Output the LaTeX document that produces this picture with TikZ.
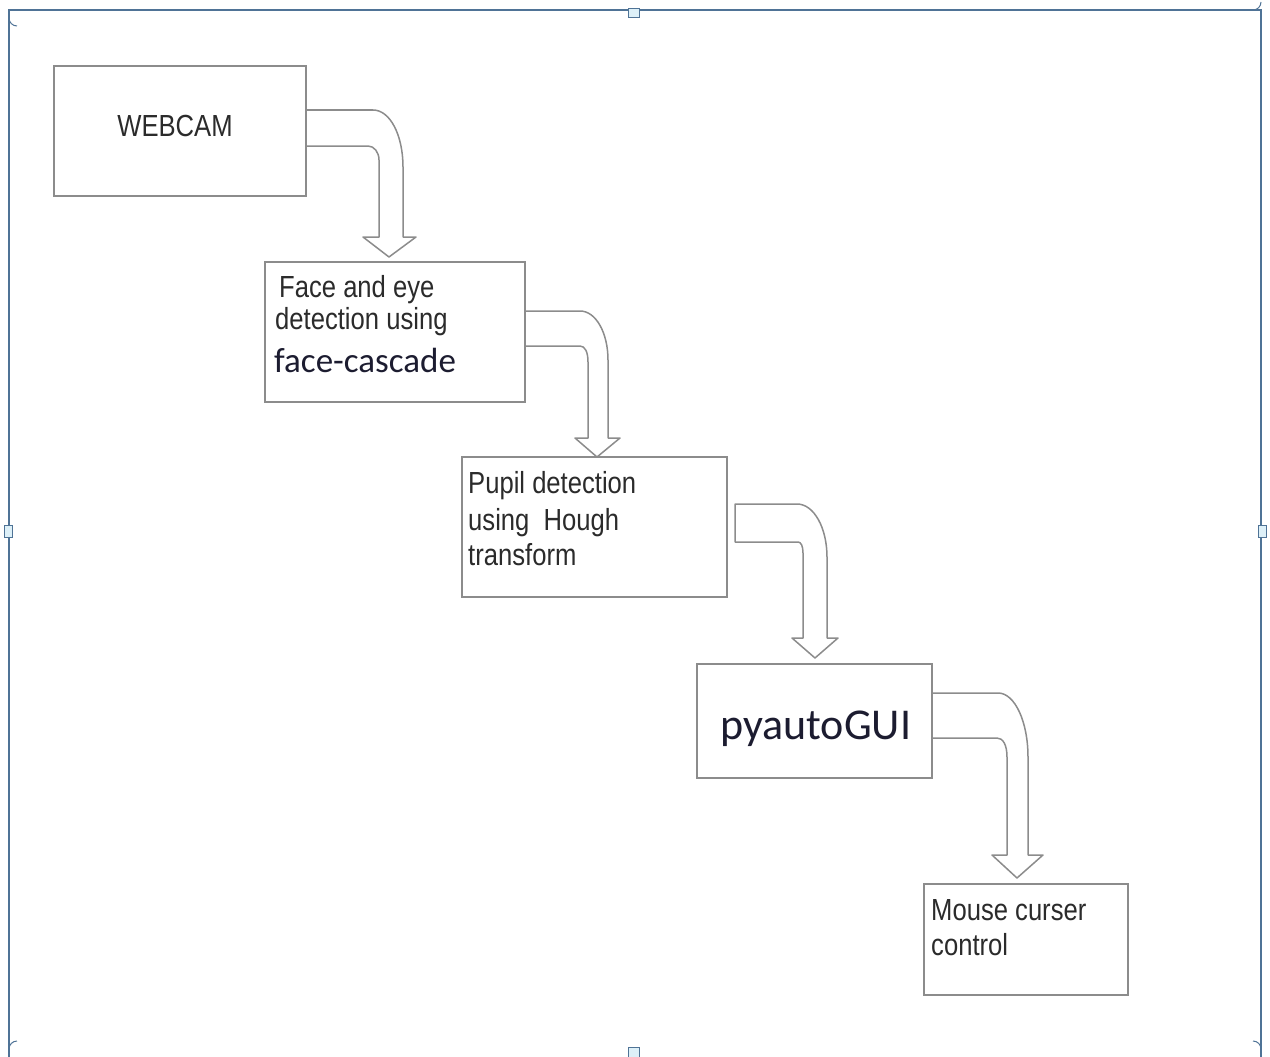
\documentclass[tikz,border=0pt]{standalone}
\usepackage{fontspec}
\newfontfamily\arialc[FakeStretch=0.84]{Liberation Sans}
\newfontfamily\calib{Carlito}
\definecolor{boxgray}{HTML}{8C8C8C}
\definecolor{frameblue}{HTML}{4F7396}
\definecolor{handlefill}{HTML}{DDF0F8}
\definecolor{txt}{HTML}{2B2B2B}
\definecolor{navytxt}{HTML}{1C1C30}
\begin{document}
\begin{tikzpicture}[x=1pt,y=-1pt,
  box/.style={draw=boxgray,line width=1.6pt,inner sep=0pt,fill=white},
  barrow/.style={draw=boxgray,line width=1.5pt,fill=white,line join=round},
  lbl/.style={anchor=base west,inner sep=0pt,font=\arialc\fontsize{30.5}{36}\selectfont,text=txt},
  cal/.style={anchor=base west,inner sep=0pt,text=navytxt},
  handle/.style={draw=frameblue,line width=1pt,fill=handlefill},
]
\useasboundingbox (0,0) rectangle (1270,1057);
\begin{scope}
\clip (0,0) rectangle (1270,1057);
% outer frame (canvas)
\draw[frameblue,line width=1.6pt] (9,10) rectangle (1261,1060);
\draw[handle] (628,9) rectangle (639,18);
\draw[handle] (628,1047) rectangle (639,1058);
\draw[handle] (4,525) rectangle (12,537);
\draw[handle] (1258,525) rectangle (1266,537);
\draw[frameblue,line width=1pt] (9,18) arc[start angle=180,end angle=90,radius=8];
\draw[frameblue,line width=1pt] (1253,10) arc[start angle=90,end angle=0,radius=8];
\draw[frameblue,line width=1pt] (9,1049) arc[start angle=180,end angle=270,radius=8];
\draw[frameblue,line width=1pt] (1261,1049) arc[start angle=0,end angle=-90,radius=8];
\end{scope}

% bent block arrows
\path[barrow] (305,110) -- (373,110) .. controls (390,110) and (403,135) .. (403,167)
  -- (403,237) -- (416,237) -- (389,257) -- (363,237) -- (379,237)
  -- (379,160) .. controls (379,152) and (374,146) .. (368,146) -- (305,146);
\path[barrow] (524,311) -- (580,311) .. controls (596,311) and (608,333) .. (608,360)
  -- (608,438) -- (620,438) -- (597,457) -- (575,438) -- (588,438)
  -- (588,362) .. controls (588,352) and (585,346) .. (580,346) -- (524,346);
\path[barrow] (735,504) -- (797,504) .. controls (814,504) and (827,528) .. (827,557)
  -- (827,638) -- (838,638) -- (815,658) -- (792,638) -- (803,638)
  -- (803,553) .. controls (803,546) and (801,542) .. (798,542) -- (735,542) -- cycle;
\path[barrow] (932,693) -- (998,693) .. controls (1015,693) and (1028,722) .. (1028,757)
  -- (1028,855) -- (1043,855) -- (1017,878) -- (992,855) -- (1007,855)
  -- (1007,757) .. controls (1007,745) and (1003,738) .. (997,738) -- (932,738);

% boxes
\node[box,minimum width=252pt,minimum height=130pt] (cam) at (180,131) {};
\node[box,minimum width=260pt,minimum height=140pt] (face) at (395,332) {};
\node[box,minimum width=265pt,minimum height=140pt] (pupil) at (594.5,527) {};
\node[box,minimum width=235pt,minimum height=114pt] (gui) at (814.5,721) {};
\node[box,minimum width=204pt,minimum height=111pt] (mouse) at (1026,939.5) {};

% texts
\node[lbl,anchor=base] (t1) at (175,136) {WEBCAM};
\node[lbl] (t2a) at (279,297) {Face and eye};
\node[lbl] (t2b) at (275,329) {detection using};
\node[cal,font=\calib\fontsize{35}{40}\selectfont] (t2c) at (274,372) {face-cascade};
\node[lbl] (t3a) at (468,493) {Pupil detection};
\node[lbl] (t3b) at (468,530) {using\ \ Hough};
\node[lbl] (t3c) at (468,565) {transform};
\node[cal,font=\calib\fontsize{44}{50}\selectfont] (t4) at (720,739) {pyautoGUI};
\node[lbl] (t5a) at (931,920) {Mouse curser};
\node[lbl] (t5b) at (931,955) {control};
\end{tikzpicture}
\end{document}
